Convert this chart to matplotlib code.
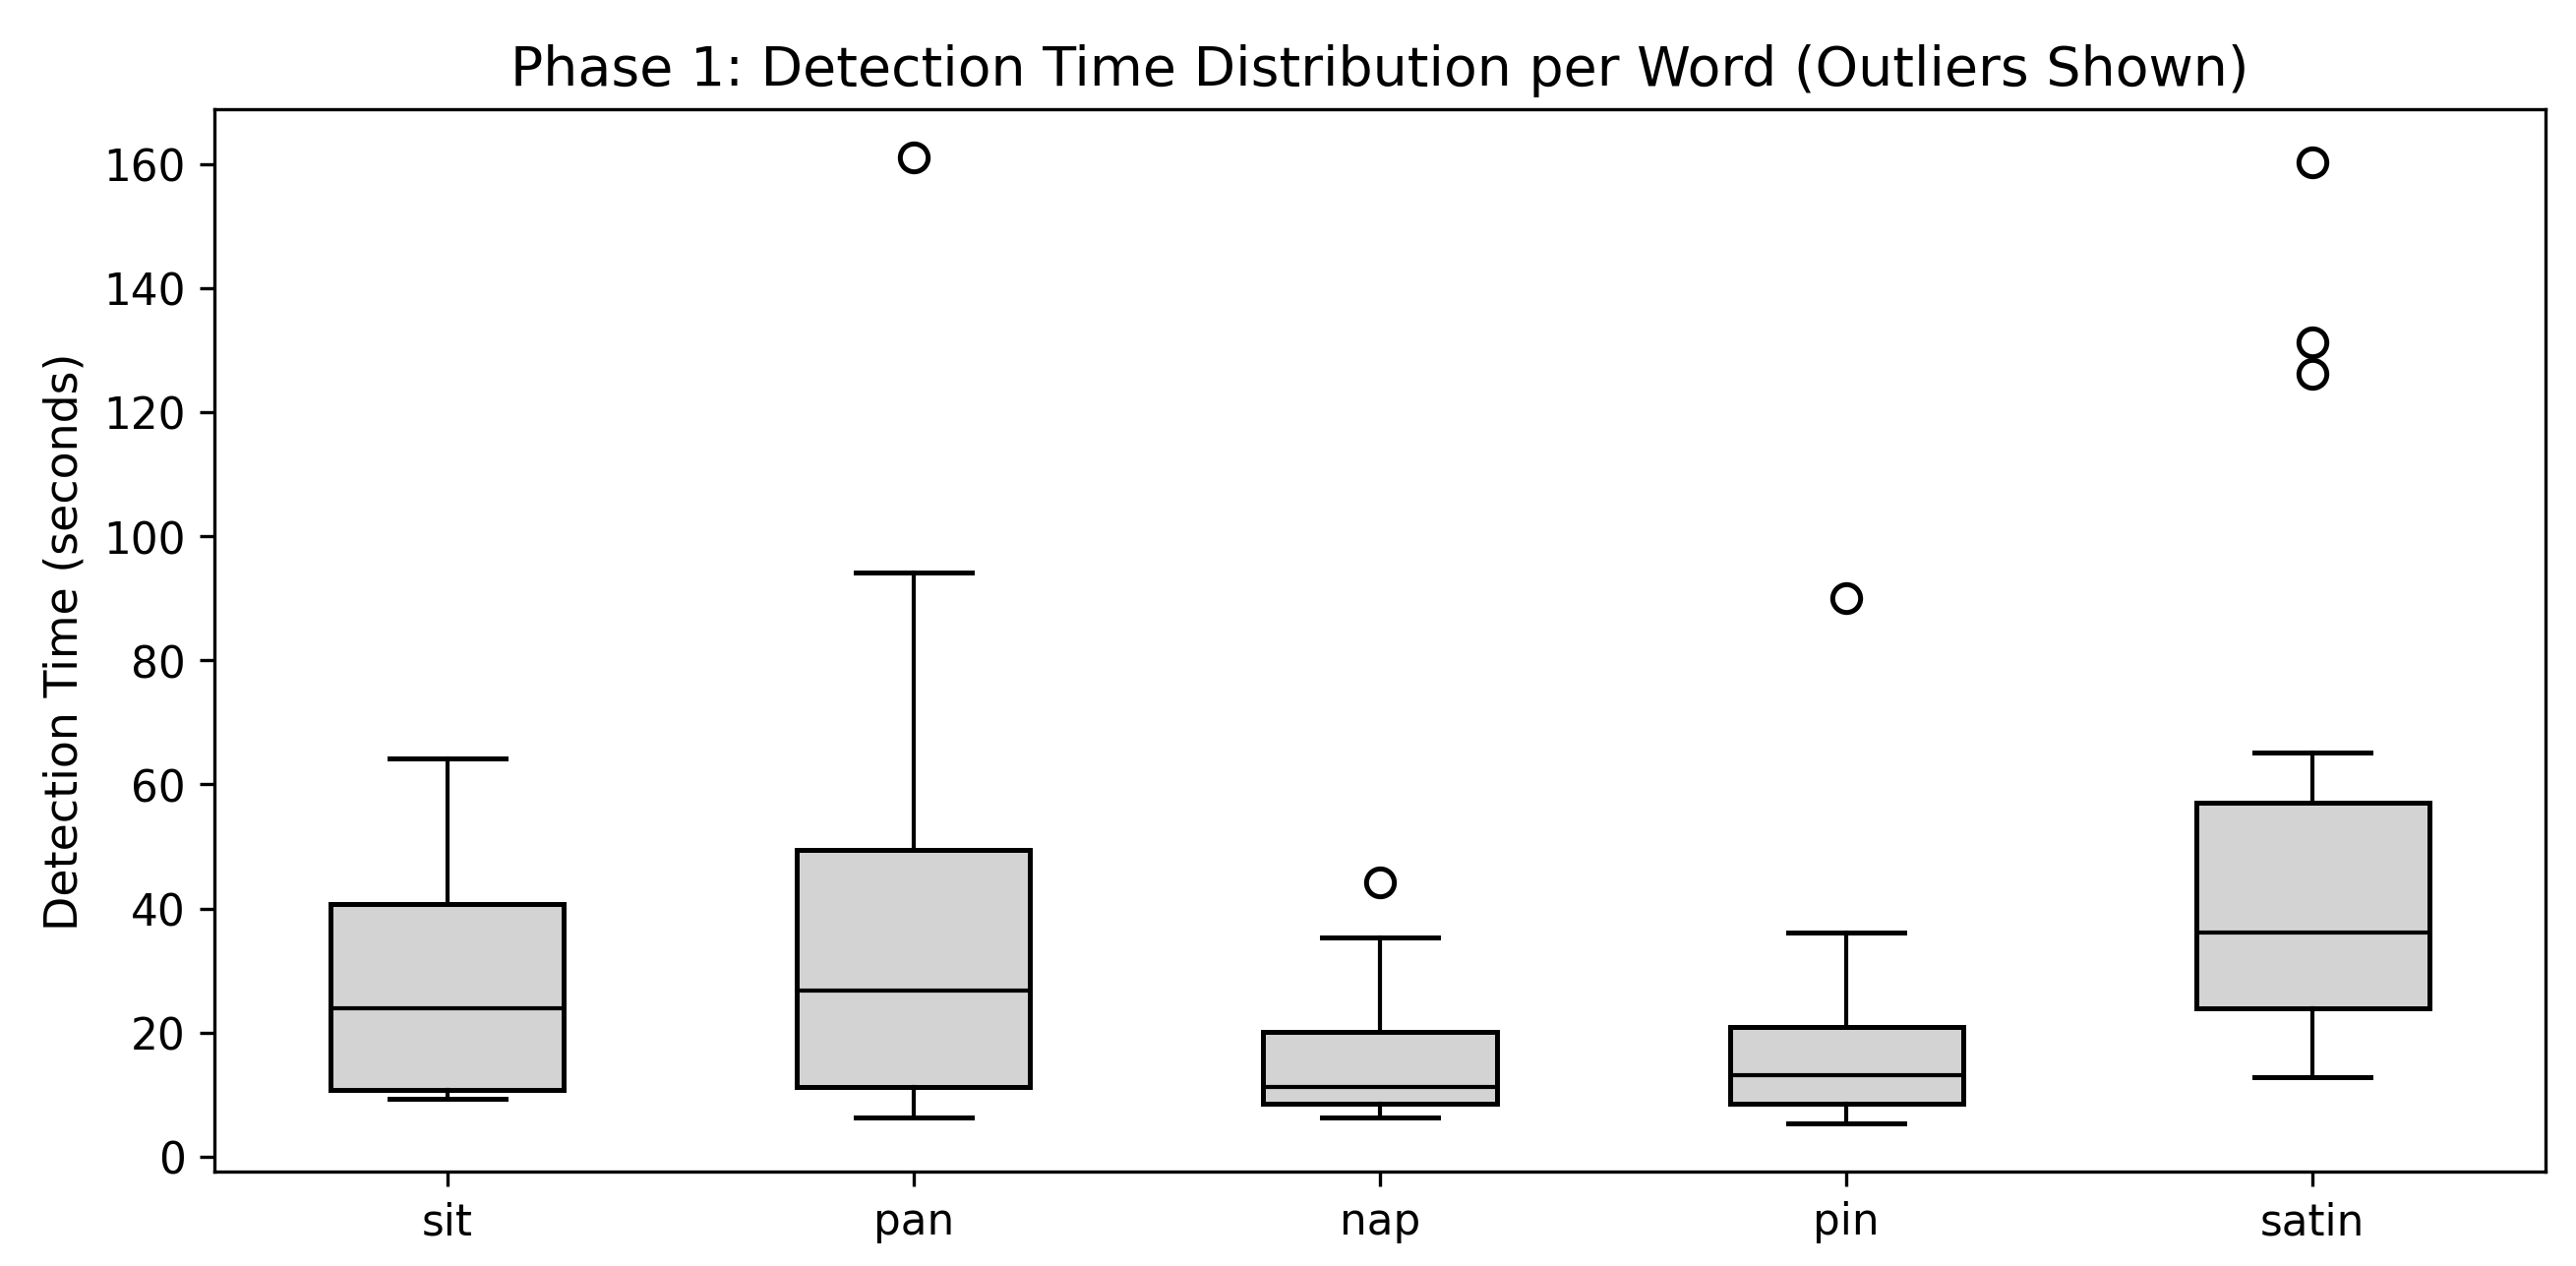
#!/usr/bin/env python3
"""
Phase 1 detection time box plot, rebuilt from summary stats read off the chart.
"""

import matplotlib
matplotlib.use("Agg")
import matplotlib.pyplot as plt

# ---------- Data (seconds) ----------
words = ["sit", "pan", "nap", "pin", "satin"]
whisker_low = [9.3, 6.4, 6.4, 5.4, 12.8]
q1 = [10.8, 11.2, 8.6, 8.6, 24.0]
median = [24.0, 26.8, 11.2, 13.2, 36.2]
q3 = [40.8, 49.5, 20.2, 20.9, 57.0]
whisker_high = [64.2, 94.2, 35.3, 36.2, 65.2]
outliers = [[], [161.0], [44.2], [90.0], [160.2, 131.2, 126.2]]
# -----------------------------------

stats = []
for i, w in enumerate(words):
    stats.append({
        "label": w,
        "whislo": whisker_low[i],
        "q1": q1[i],
        "med": median[i],
        "q3": q3[i],
        "whishi": whisker_high[i],
        "fliers": outliers[i],
    })

fig, ax = plt.subplots(figsize=(8.73, 4.293), dpi=300)
bp = ax.bxp(
    stats,
    widths=0.5,
    patch_artist=True,
    boxprops=dict(facecolor="lightgray", edgecolor="black", linewidth=1.2),
    medianprops=dict(color="black", linewidth=1.0),
    whiskerprops=dict(color="black", linewidth=1.0),
    capprops=dict(color="black", linewidth=1.2),
    flierprops=dict(marker="o", markerfacecolor="white", markeredgecolor="black",
                    markersize=6.8, markeredgewidth=1.2),
)

ax.set_title("Phase 1: Detection Time Distribution per Word (Outliers Shown)", fontsize=13.3)
ax.set_ylabel("Detection Time (seconds)", fontsize=11)
ax.set_yticks(range(0, 161, 20))
ax.tick_params(labelsize=10.5)

fig.subplots_adjust(left=0.0832, right=0.9882, top=0.913, bottom=0.0745)
fig.savefig("out.png", dpi=300)
